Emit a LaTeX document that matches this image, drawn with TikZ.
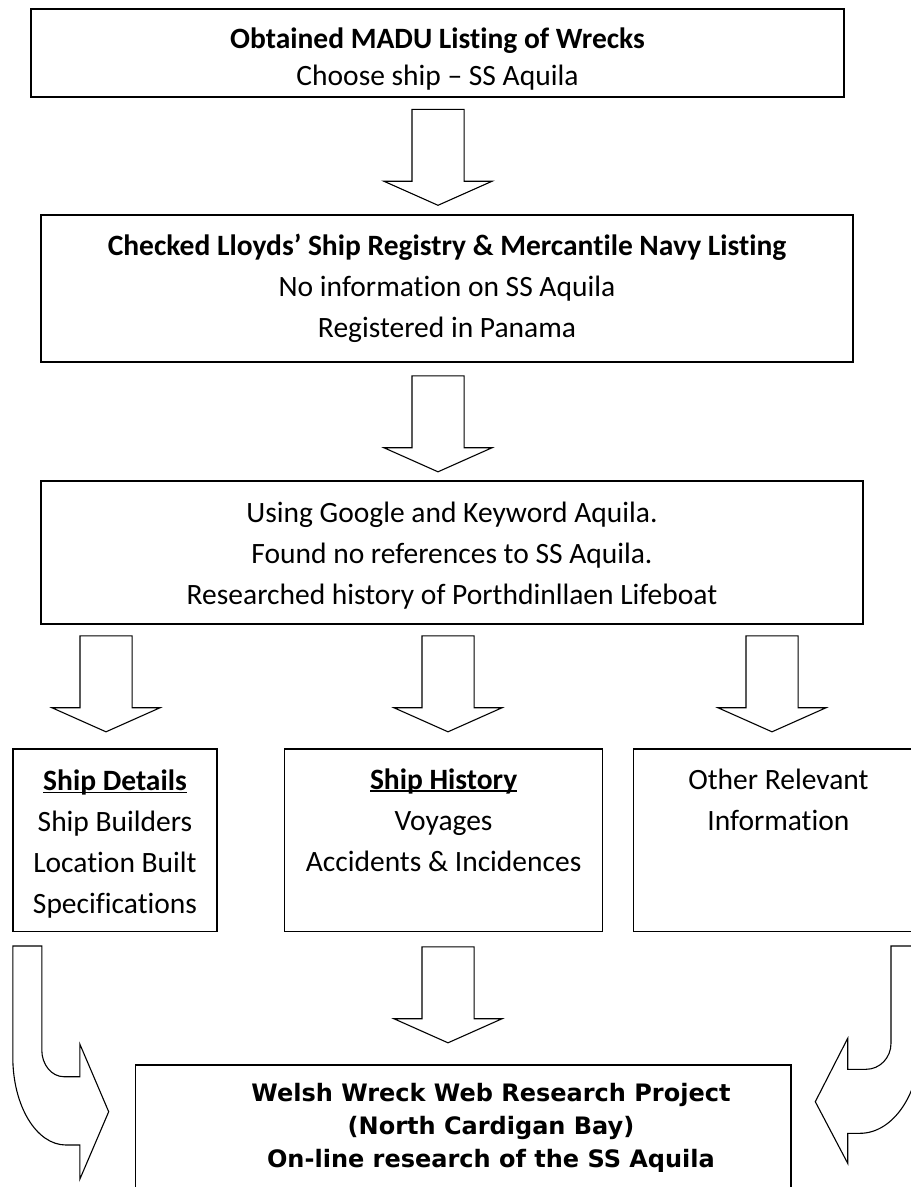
\documentclass[tikz,border=0pt]{standalone}
\usepackage{fontspec}
\setmainfont{Carlito}[Ligatures={TeX,NoCommon}]
\newfontfamily\wreckfont{DejaVu Sans}
\usepackage{tikz}
\usetikzlibrary{shapes.arrows}
\tikzstyle{box} = [rectangle, draw, line width=1.6pt, align=center, inner sep=0pt, font=\fontsize{29.5}{41}\selectfont]
\tikzstyle{downarrow} = [single arrow, draw, line width=1.1pt, rotate=-90, minimum height=96pt, inner xsep=0pt, inner ysep=25.5pt, single arrow head extend=28pt, single arrow tip angle=132, text height=0pt, text depth=0pt]
\tikzstyle{bentarrow} = [draw, line width=1.1pt, line join=miter]
\newcommand{\ulbold}[1]{\setbox0\hbox{\textbf{#1}}\rlap{\rule[-3pt]{\wd0}{1.8pt}}\box0}

\begin{document}
\begin{tikzpicture}[x=1pt, y=-1pt]
  \useasboundingbox (0,0) rectangle (911,1187);

  \node (obtained) [box, minimum width=813pt, minimum height=88pt, font=\fontsize{29.5}{37}\selectfont] at (437.5,53) {\rule{0pt}{32pt}\textbf{Obtained MADU Listing of Wrecks}\\Choose ship -- SS Aquila};
  \node (lloyds) [box, minimum width=812pt, minimum height=147pt] at (447,288.5) {\textbf{Checked Lloyds' Ship Registry \& Mercantile Navy Listing}\\No information on SS Aquila\\Registered in Panama};
  \node (google) [box, minimum width=822pt, minimum height=143pt] at (452,552.4) {\rule{0pt}{26pt}Using Google and Keyword Aquila.\\Found no references to SS Aquila.\\Researched history of Porthdinllaen Lifeboat};

  \node (details) [box, minimum width=204.5pt, minimum height=182.7pt] at (115,840.3) {\rule{0pt}{28pt}\ulbold{Ship Details}\\Ship Builders\\Location Built\\Specifications};
  \node (history) [box, minimum width=318pt, minimum height=182.7pt] at (443.6,840.3) {\ulbold{Ship History}\\Voyages\\Accidents \& Incidences\\\mbox{}};
  \node (other) [box, minimum width=290pt, minimum height=182.7pt] at (778.4,840.3) {Other Relevant\\Information\\\mbox{}\\\mbox{}};

  \node (wreck) [box, minimum width=655.4pt, minimum height=150pt, anchor=north west] at (134.8,1064.3) {};
  \node (wrecktext) [anchor=north, align=center, inner sep=0pt, font=\wreckfont\bfseries\fontsize{24}{33}\selectfont] at (491,1083) {Welsh Wreck Web Research Project\\(North Cardigan Bay)\\On-line research of the SS Aquila};

  % block arrows between the boxes
  \node (arrowa) [downarrow] at (438,151.5) {};
  \node (arrowb) [downarrow] at (438,418) {};
  \node (arrowc) [downarrow] at (106,678) {};
  \node (arrowd) [downarrow] at (448,678) {};
  \node (arrowe) [downarrow] at (772,678) {};
  \node (arrowf) [downarrow] at (448,989) {};

  % bent arrows into the last box
  \draw [bentarrow] (12.8,946) -- (41.8,946) -- (41.8,1050) .. controls (41.8,1064.7) and (51.7,1076.7) .. (63.8,1076.7) -- (79.8,1076.7) -- (79.8,1044) -- (108.7,1111.7) -- (79.8,1179.3) -- (79.8,1145) -- (66,1145) .. controls (36.2,1145) and (12.8,1105.6) .. (12.8,1057) -- cycle;
  \draw [bentarrow] (891,946) -- (920,946) -- (920,1045) .. controls (920,1093.6) and (893.1,1133.3) .. (860,1133.3) -- (847.7,1133.3) -- (847.7,1163.3) -- (815.3,1101.7) -- (847.7,1038.3) -- (847.7,1069.3) -- (866,1069.3) .. controls (880,1069.3) and (891,1057.6) .. (891,1043.3) -- cycle;
\end{tikzpicture}
\end{document}
